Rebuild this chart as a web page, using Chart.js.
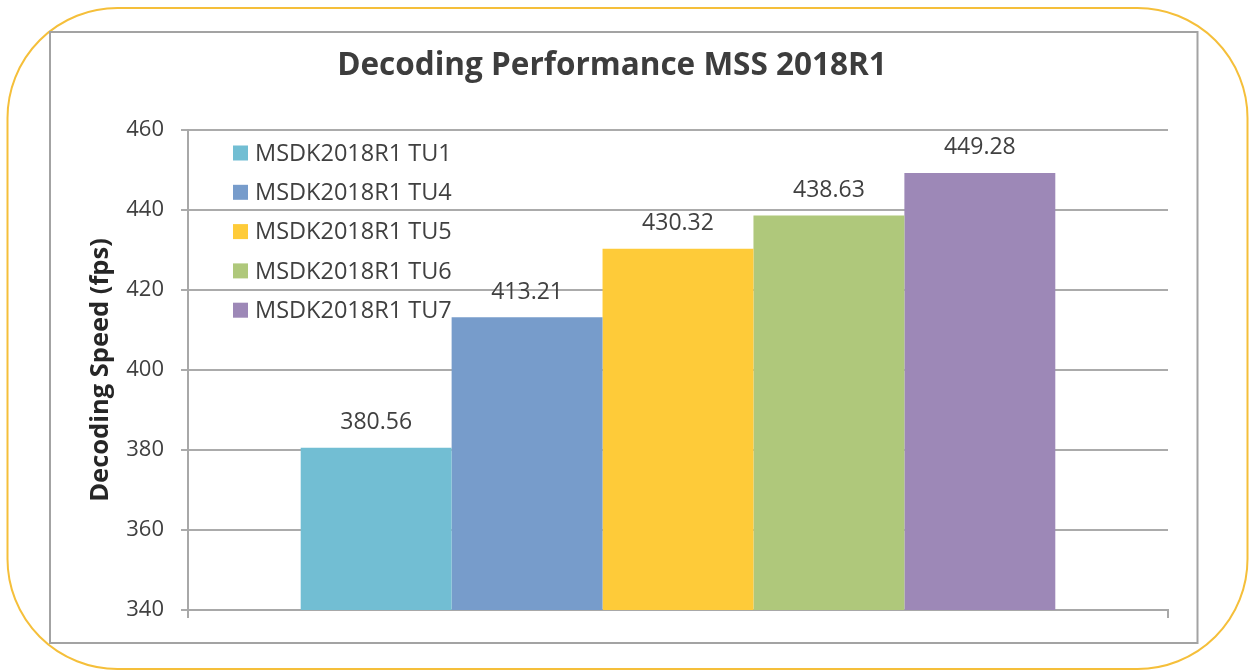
<!DOCTYPE html>
<html>
<head>
<meta charset="utf-8">
<script src="https://cdn.jsdelivr.net/npm/chart.js@4.4.1/dist/chart.umd.min.js"></script>
<style>
  html, body { margin: 0; padding: 0; background: #ffffff; }
  #wrap { width: 1249px; height: 671px; }
</style>
</head>
<body>
<div id="wrap"><canvas id="c" width="1249" height="671"></canvas></div>
<script>
const chartTitle = 'Decoding Performance MSS 2018R1';
const yAxisTitle = 'Decoding Speed (fps)';
const categories = [''];
const seriesNames = ['MSDK2018R1 TU1', 'MSDK2018R1 TU4', 'MSDK2018R1 TU5', 'MSDK2018R1 TU6', 'MSDK2018R1 TU7'];
const seriesValues = [380.56, 413.21, 430.32, 438.63, 449.28];
const seriesColors = ['#72BED3', '#779CCB', '#FECB39', '#AFC87B', '#9D88B7'];
const yMin = 340, yMax = 460, yStep = 20;

const FONT = "'Open Sans', 'Noto Sans', sans-serif";
const TEXT = '#404040';

const framePlugin = {
  id: 'frame',
  beforeDraw(chart) {
    const ctx = chart.ctx;
    ctx.save();
    ctx.fillStyle = '#ffffff';
    ctx.fillRect(0, 0, chart.width, chart.height);
    ctx.strokeStyle = '#F5BF3A';
    ctx.lineWidth = 2;
    ctx.beginPath();
    ctx.roundRect(7.5, 8, 1240, 661, 110);
    ctx.stroke();
    ctx.strokeStyle = '#A3A3A3';
    ctx.lineWidth = 2;
    ctx.strokeRect(50, 32, 1147.5, 611);
    ctx.fillStyle = '#3d3d3d';
    ctx.font = 'bold 31.5px ' + FONT;
    ctx.textAlign = 'center';
    ctx.textBaseline = 'middle';
    ctx.fillText(chartTitle, 612, 66);
    ctx.restore();
  },
  afterDatasetsDraw(chart) {
    const ctx = chart.ctx;
    ctx.save();
    ctx.font = '23px ' + FONT;
    ctx.fillStyle = TEXT;
    ctx.textAlign = 'center';
    ctx.textBaseline = 'middle';
    chart.data.datasets.forEach((ds, i) => {
      const meta = chart.getDatasetMeta(i);
      meta.data.forEach((bar, j) => {
        ctx.fillText(ds.data[j].toFixed(2), bar.x, bar.y - 25);
      });
    });
    ctx.textAlign = 'left';
    ctx.font = '23.5px ' + FONT;
    chart.data.datasets.forEach((ds, i) => {
      const cy = 153 + i * 39.3;
      ctx.fillStyle = ds.backgroundColor;
      ctx.fillRect(233, cy - 7.5, 15, 15);
      ctx.fillStyle = TEXT;
      ctx.fillText(ds.label, 255, cy + 1);
    });
    ctx.restore();
  }
};

new Chart(document.getElementById('c'), {
  type: 'bar',
  data: {
    labels: categories,
    datasets: seriesNames.map((name, i) => ({
      label: name,
      data: [seriesValues[i]],
      backgroundColor: seriesColors[i],
      borderWidth: 0,
      barPercentage: 1.0,
      categoryPercentage: 0.77
    }))
  },
  options: {
    responsive: false,
    devicePixelRatio: 1,
    animation: false,
    layout: { padding: { left: 0, right: 81, top: 130, bottom: 0 } },
    plugins: {
      legend: { display: false },
      title: { display: false },
      tooltip: { enabled: false }
    },
    scales: {
      x: {
        grid: { display: true, drawOnChartArea: false, drawTicks: true, tickLength: 8, color: '#A8A8A8', lineWidth: 2, offset: true },
        border: { display: true, color: '#A8A8A8', width: 2 },
        ticks: { display: false },
        afterFit(scale) { scale.height = 61; }
      },
      y: {
        min: yMin,
        max: yMax,
        ticks: { stepSize: yStep, color: TEXT, font: { family: FONT, size: 22 }, padding: 17 },
        grid: { color: '#ABABAB', lineWidth: 2, drawTicks: true, tickLength: 7 },
        border: { display: true, color: '#A8A8A8', width: 2 },
        title: {
          display: true,
          text: yAxisTitle,
          color: '#262626',
          font: { family: FONT, size: 25.5, weight: 'bold' },
          padding: { top: 85, bottom: 0 }
        },
        afterFit(scale) { scale.width = 188; }
      }
    }
  },
  plugins: [framePlugin]
});
</script>
</body>
</html>
